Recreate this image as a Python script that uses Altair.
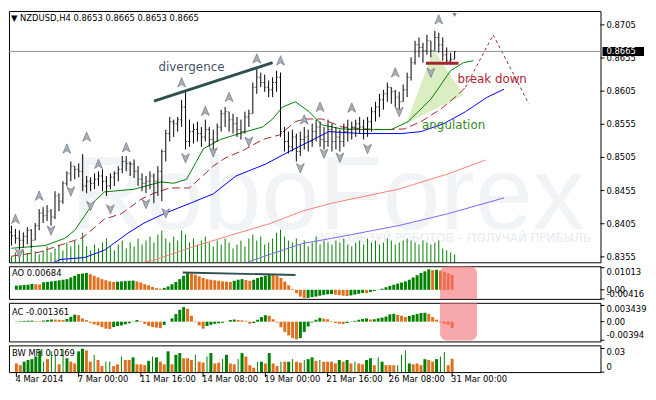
import altair as alt
import pandas as pd

FONT = "DejaVu Sans"
W = 598
H_MAIN, H_AO, H_AC, H_MFI = 254, 33, 39, 27
X_DOMAIN = [-0.625, 148.875]
P_DOMAIN = [0.83468, 0.87259]
AO_DOMAIN = [-0.00416, 0.0108]
AC_DOMAIN = [-0.0042, 0.0040]
MFI_DOMAIN = [0.0, 0.034]

HEADER = "\u25bc NZDUSD,H4  0.8653 0.8665 0.8653 0.8665"
price_ticks = [0.8705, 0.8655, 0.8605, 0.8555, 0.8505, 0.8455, 0.8405, 0.8355]
ao_ticks = [0.01013, 0.0, -0.00416]
ao_tick_labels = ["0.01013", "0.00", "-0.00416"]
ac_ticks = [0.003439, 0.0, -0.00394]
ac_tick_labels = ["0.003439", "0.00", "-0.00394"]
mfi_ticks = [0.03, 0.0]
mfi_tick_labels = ["0.03", "0"]
time_ticks = [0, 16, 32, 48, 64, 80, 96, 112]
time_labels = ["4 Mar 2014", "7 Mar 00:00", "11 Mar 16:00", "14 Mar 08:00",
               "19 Mar 00:00", "21 Mar 16:00", "26 Mar 08:00", "31 Mar 00:00"]
last_price = 0.8665
first_open = 0.8392

bar_high = [
    .8402, .8397, .8395, .8392, .8400, .8397, .8406, .8427, .8430, .8433,
    .8427, .8454, .8451, .8469, .8484, .8499, .8492, .8496, .8510, .8477,
    .8475, .8481, .8484, .8487, .8477, .8481, .8484, .8492, .8507, .8507,
    .8499, .8502, .8492, .8481, .8477, .8484, .8481, .8492, .8517, .8547,
    .8566, .8562, .8566, .8592, .8604, .8562, .8556, .8559, .8551, .8562,
    .8551, .8547, .8556, .8577, .8581, .8574, .8571, .8566, .8562, .8574,
    .8577, .8618, .8638, .8633, .8630, .8621, .8626, .8636, .8633, .8551,
    .8544, .8547, .8541, .8544, .8551, .8547, .8556, .8562, .8559, .8551,
    .8562, .8556, .8551, .8547, .8556, .8562, .8559, .8562, .8566, .8562,
    .8566, .8581, .8589, .8601, .8607, .8618, .8611, .8607, .8604, .8615,
    .8633, .8656, .8681, .8686, .8678, .8690, .8681, .8696, .8693, .8686,
    .8671, .8663, .8665]
bar_low = [
    .8372, .8375, .8365, .8369, .8374, .8368, .8380, .8395, .8406, .8409,
    .8402, .8412, .8424, .8435, .8462, .8469, .8472, .8475, .8454, .8451,
    .8454, .8457, .8462, .8454, .8447, .8457, .8462, .8469, .8481, .8484,
    .8477, .8474, .8462, .8454, .8451, .8457, .8436, .8447, .8439, .8499,
    .8529, .8536, .8544, .8551, .8517, .8521, .8526, .8529, .8521, .8529,
    .8521, .8517, .8529, .8544, .8551, .8544, .8541, .8536, .8532, .8541,
    .8551, .8571, .8601, .8611, .8604, .8596, .8596, .8604, .8536, .8514,
    .8511, .8514, .8499, .8507, .8517, .8514, .8521, .8529, .8521, .8517,
    .8521, .8514, .8517, .8514, .8521, .8529, .8532, .8536, .8541, .8532,
    .8536, .8544, .8559, .8566, .8577, .8589, .8586, .8581, .8577, .8589,
    .8596, .8621, .8645, .8656, .8648, .8660, .8656, .8666, .8663, .8651,
    .8645, .8645, .8653]
bar_close = [
    .8387, .8383, .8380, .8386, .8395, .8380, .8402, .8421, .8417, .8424,
    .8415, .8447, .8439, .8466, .8481, .8492, .8487, .8484, .8462, .8469,
    .8466, .8472, .8477, .8469, .8462, .8475, .8481, .8487, .8499, .8496,
    .8495, .8484, .8472, .8466, .8469, .8477, .8469, .8484, .8514, .8541,
    .8559, .8556, .8562, .8581, .8529, .8544, .8547, .8541, .8536, .8547,
    .8532, .8529, .8551, .8571, .8574, .8562, .8556, .8547, .8544, .8566,
    .8571, .8611, .8626, .8618, .8611, .8607, .8618, .8626, .8544, .8529,
    .8521, .8536, .8514, .8532, .8536, .8529, .8544, .8551, .8532, .8529,
    .8547, .8529, .8536, .8529, .8544, .8547, .8551, .8556, .8551, .8547,
    .8559, .8574, .8581, .8592, .8601, .8611, .8604, .8596, .8589, .8607,
    .8626, .8648, .8675, .8671, .8666, .8681, .8666, .8686, .8675, .8660,
    .8651, .8653, .8665]
volume = [
    6, 10, 8, 12, 9, 14, 11, 8, 12, 16, 10,
    14, 18, 12, 20, 16, 22, 18, 30, 16, 12,
    18, 14, 20, 24, 16, 12, 18, 22, 14, 20,
    16, 24, 18, 22, 26, 20, 28, 32, 24, 20,
    26, 22, 32, 28, 20, 24, 18, 22, 26, 20,
    16, 22, 18, 24, 20, 14, 18, 22, 16, 24,
    28, 22, 26, 18, 20, 24, 30, 33, 26, 22,
    20, 24, 18, 22, 16, 20, 26, 18, 22, 20,
    18, 22, 20, 24, 18, 16, 20, 22, 18, 24,
    20, 22, 18, 20, 24, 22, 18, 20, 22, 24,
    22, 20, 18, 22, 20, 18, 20, 22, 14, 12, 10, 8]

lips_i = [0, 8.5, 13.5, 16, 18.5, 21, 23.5, 31, 37.75, 41, 44.25, 46.75, 48.5, 52.75, 59.25,
          63.5, 66, 68.5, 71.75, 75.25, 78.5, 83.5, 90.25, 96, 100.25, 106, 111, 114.25, 116.75]
lips_p = [.8368, .8372, .8383, .8395, .8417, .8439, .8453, .8457, .8468, .8466, .8472, .8499, .8518,
          .8532, .8544, .8551, .8563, .8581, .8589, .8574, .8554, .8548, .8547, .8547, .8559, .8593,
          .8636, .8648, .8651]
teeth_i = [0, 7, 16, 18, 23.5, 27.75, 32.75, 36, 40, 45, 47.75, 51, 54, 59, 63.5, 67.75, 71.75,
           74, 78.5, 83.5, 89.25, 94.25, 99.25, 103.5, 108.5, 112.75, 114.75]
teeth_p = [.8356, .8362, .8380, .8384, .8412, .8420, .8442, .8451, .8459, .8459, .8474, .8492,
           .8504, .8517, .8532, .8539, .8559, .8563, .8563, .8551, .8548, .8547, .8548, .8559,
           .8578, .8599, .8611]
jaw_i = [10, 12.25, 18.5, 23.5, 29.25, 33.5, 38.5, 45.25, 51, 56.75, 64.25, 70.25, 75.25, 80.25,
         88.5, 98.5, 103.5, 109.25, 114.75, 120.25, 124.5]
jaw_p = [.8344, .8351, .8354, .8365, .8390, .8406, .8420, .8436, .8450, .8477, .8495, .8514,
         .8529, .8544, .8541, .8541, .8544, .8556, .8574, .8596, .8608]
ma_salmon_i = [33.5, 36, 45.25, 56.75, 65.25, 73.5, 81, 97.75, 110.25, 119.75]
ma_salmon_p = [.8347, .8350, .8369, .8390, .8405, .8424, .8436, .8457, .8480, .8501]
ma_purple_i = [59.75, 61, 73.5, 81, 97.75, 110.25, 124.5]
ma_purple_p = [.8347, .8350, .8375, .8383, .8402, .8420, .8444]
forecast_i = [114.75, 121.75, 130.75]
forecast_p = [.8611, .8690, .8586]

frac_up_i = [1, 7, 14, 19, 22, 29, 43, 49, 55, 62, 68, 74, 78, 86, 97, 108]
frac_up_p = [.8412, .8447, .8518, .8536, .8495, .8520, .8618, .8575, .8596, .8654, .8651,
             .8562, .8581, .8580, .8633, .8713]
frac_dn_i = [2, 10, 15, 20, 25, 34, 39, 44, 51, 60, 73, 79, 83, 90, 98, 106]
frac_dn_p = [.8360, .8395, .8454, .8432, .8427, .8435, .8421, .8504, .8513, .8529, .8489,
             .8511, .8505, .8518, .8574, .8633]

ao_vals = [
    .00193, .00206, .00219, .00232, .00270, .00257, .00245, .00347, .00360, .00386,
    .00412, .00438, .00463, .00489, .00566, .00644, .00721, .00746, .00772,
    .00721, .00644, .00566, .00489, .00438, .00386, .00360,
    .00373, .00386, .00399, .00412, .00425,
    .00386, .00335, .00257, .00206, .00129, .00077, .00051,
    .00090, .00154, .00257, .00360, .00489, .00644, .00759,
    .00734, .00695, .00618, .00541, .00489, .00463, .00438, .00412, .00386, .00373, .00360,
    .00412, .00463, .00489,
    .00450, .00412,
    .00463, .00541, .00592, .00644, .00695,
    .00682, .00644, .00541, .00373, .00206, .00039, -.00154, -.00309, -.00386,
    -.00373, -.00335, -.00309, -.00270, -.00232, -.00206, -.00193,
    -.00219, -.00245, -.00270, -.00283,
    -.00257, -.00219, -.00180, -.00142,
    -.00154,
    -.00103, -.00051, -.00013, .00051, .00116, .00180, .00232, .00283, .00335, .00386,
    .00463, .00566, .00669, .00772, .00849, .00940,
    .00901, .00914, .00875, .00824, .00759, .00684]
ac_vals = [
    .000057, .000115, .000172, .000201, .000229, .000115, .000086, .000229, .000344, .000458,
    .000430, .000401, .000372, .000573, .001031, .001490, .001375, .000688, .000344, -.000229,
    -.000573, -.000802, -.001146, -.001490, -.001547, -.001146, -.000917, -.000802, -.000573, -.000344,
    .000057, .000344, .000115, -.000458, -.000917, -.001146, -.001261, -.001375, -.000688, .000029,
    .000688, .001604, .002521, .003094, .002750, .001261, -.000115, -.000802, -.001490, -.000917,
    -.000688, -.000458, -.000344, -.000229, .000029, .000344, .000458, .000344, .000287, .000172,
    -.000458, -.000287, .000401, .000974, .001375, .001261, .000516, -.000172, -.001203, -.002177,
    -.002922, -.003495, -.003725, -.003495, -.002177, -.001031, -.000172, .000401, .000802, .000630,
    .000516, .000115, -.000287, -.000458, -.000516, -.000287, -.000057, .000172, .000401, .000573,
    .000688, .000458, .000516, .000688, .000860, .001089, .001547, .001662, .001433, .001261,
    .000974, .001203, .001433, .001662, .001834, .001891, .001662, .000974, .000401, -.000172,
    -.000401, -.000630, -.001361]
mfi_vals = [
    .0110, .0088, .0132, .0154, .0165, .0198, .0275, .0132, .0165, .0264,
    .0220, .0099, .0297, .0176, .0132, .0110, .0264, .0297, .0275, .0132,
    .0220, .0154, .0077, .0132, .0132, .0077, .0099, .0198, .0154, .0154,
    .0187, .0099, .0099, .0088, .0143, .0198, .0187, .0132, .0099, .0264,
    .0099, .0220, .0242, .0176, .0176, .0154, .0220, .0132, .0121, .0198,
    .0242, .0110, .0121, .0165, .0220, .0110, .0099, .0165, .0242, .0198,
    .0088, .0055, .0132, .0132, .0110, .0242, .0110, .0077, .0132, .0132,
    .0132, .0165, .0132, .0121, .0154, .0165, .0187, .0143, .0154, .0132,
    .0132, .0132, .0110, .0154, .0132, .0154, .0110, .0132, .0110, .0099,
    .0154, .0176, .0088, .0187, .0132, .0088, .0088, .0088, .0088, .0220,
    .0275, .0110, .0099, .0110, .0088, .0165, .0154, .0132, .0165, .0198,
    .0253, .0088, .0169]
mfi_kind = list(
    "BBGGGGGUPU" "UPUGPPGGPB" "UPBUUBBUPP" "GPPBGUGPBG" "BGGBBBUPBU"
    "GPPUGPBUGP" "BBUGPGBBUP" "GUPPUGGBUP" "PPBGPGBUBP" "GGBUGPPPUU"
    "UGBPBGBPGU" "UPB")

GREEN, ORANGE, RED = "#008000", "#e0701e", "#dc143c"
MFI_COLORS = {"G": "#2e8b57", "B": "#b8860b", "U": "#0000ff", "P": "#dc143c"}
LABEL_SIZE = 8.5

n = len(bar_close)
idx = list(range(n))


def xenc(field="i"):
    return alt.X(field, type="quantitative",
                 scale=alt.Scale(domain=X_DOMAIN, nice=False, zero=False), axis=None)


def yenc(field, domain):
    return alt.Y(field, type="quantitative",
                 scale=alt.Scale(domain=domain, nice=False, zero=False), axis=None)


def right_scale(values, texts, domain, baselines=None):
    """Price-scale ticks and labels drawn on the right edge of a panel."""
    baselines = baselines or ["middle"] * len(values)
    df = pd.DataFrame({"v": values, "t": texts, "b": baselines})
    ticks = alt.Chart(df).mark_rule(color="black", strokeWidth=1).encode(
        x=alt.value(W), x2=alt.value(W + 4), y=yenc("v", domain))
    layers = [ticks]
    for b in dict.fromkeys(baselines):
        layers.append(
            alt.Chart(df).transform_filter(alt.datum.b == b).mark_text(
                align="left", baseline=b, font=FONT, fontSize=LABEL_SIZE,
                color="black").encode(x=alt.value(W + 6), y=yenc("v", domain), text="t:N"))
    return layers


def line(xs, ps, color, width=1.0, dash=None):
    df = pd.DataFrame({"i": xs, "p": ps})
    kw = dict(color=color, strokeWidth=width, clip=True)
    if dash:
        kw["strokeDash"] = dash
    return alt.Chart(df).mark_line(**kw).encode(x=xenc(), y=yenc("p", P_DOMAIN))


def label(text, color, size, xi, p, align="center", baseline="middle", font=FONT):
    df = pd.DataFrame({"i": [xi], "p": [p], "t": [text]})
    return alt.Chart(df).mark_text(color=color, fontSize=size, font=font, align=align,
                                   baseline=baseline).encode(
        x=xenc(), y=yenc("p", P_DOMAIN), text="t:N")


def panel_title(text, ypx):
    return alt.Chart(pd.DataFrame({"t": [text]})).mark_text(
        align="left", baseline="middle", font=FONT, fontSize=LABEL_SIZE, color="black").encode(
        x=alt.value(3), y=alt.value(ypx), text="t:N")


# ---------------- main price panel ----------------
bar_open = [first_open] + bar_close[:-1]
ohlc = pd.DataFrame({"i": idx, "open": bar_open, "high": bar_high, "low": bar_low,
                     "close": bar_close, "vol": volume})

watermark = alt.layer(
    label("RoboForex", "#f1f4f7", 105, 15, 0.8397, align="left", baseline="alphabetic",
          font="Liberation Sans"),
    label("ИСПОЛЬЗУЙ РОБОТОВ – ПОЛУЧАЙ ПРИБЫЛЬ", "#e6ebf0", 12, 146.5, 0.8383,
          align="right"),
)

vol_layer = alt.Chart(ohlc).mark_rule(color=GREEN, strokeWidth=1).encode(
    x=xenc(), y=yenc("vol", [0, H_MAIN]), y2=alt.datum(0))

tri = pd.DataFrame({"i": [99.75, 106.75, 114.25], "p": [.8556, .8668, .8599],
                    "p2": [.8556, .8577, .8599]})
tri_layer = alt.Chart(tri).mark_area(color="#d9ecc0", opacity=0.95).encode(
    x=xenc(), y=yenc("p", P_DOMAIN), y2="p2")

price_line = alt.Chart(pd.DataFrame({"p": [last_price]})).mark_rule(
    color="#8c9399", strokeWidth=1).encode(y=yenc("p", P_DOMAIN))

hl = alt.Chart(ohlc).mark_rule(color="black", strokeWidth=1).encode(
    x=xenc(), y=yenc("low", P_DOMAIN), y2="high")
op = alt.Chart(ohlc).mark_tick(color="black", orient="horizontal", size=1, thickness=1,
                               xOffset=-1).encode(x=xenc(), y=yenc("open", P_DOMAIN))
cl = alt.Chart(ohlc).mark_tick(color="black", orient="horizontal", size=1, thickness=1,
                               xOffset=1).encode(x=xenc(), y=yenc("close", P_DOMAIN))

UP_SHAPE = "M0,-1L0.8,0.9L0,0.4L-0.8,0.9Z"
DN_SHAPE = "M0,1L0.8,-0.9L0,-0.4L-0.8,-0.9Z"
frac_up = alt.Chart(pd.DataFrame({"i": frac_up_i, "p": frac_up_p})).mark_point(
    shape=UP_SHAPE, filled=True, fill="#a9afb8", stroke="#5f6670", strokeWidth=0.6,
    size=100, opacity=1).encode(x=xenc(), y=yenc("p", P_DOMAIN))
frac_dn = alt.Chart(pd.DataFrame({"i": frac_dn_i, "p": frac_dn_p})).mark_point(
    shape=DN_SHAPE, filled=True, fill="#a9afb8", stroke="#5f6670", strokeWidth=0.6,
    size=100, opacity=1).encode(x=xenc(), y=yenc("p", P_DOMAIN))

header = alt.Chart(pd.DataFrame({"t": [HEADER]})).mark_text(
    align="left", baseline="middle", font=FONT, fontSize=LABEL_SIZE, color="black").encode(
    x=alt.value(2), y=alt.value(7), text="t:N")

box = pd.DataFrame({"p": [last_price + 0.00068], "p2": [last_price - 0.00068],
                    "pc": [last_price], "t": [f"{last_price:.4f}"]})
box_rect = alt.Chart(box).mark_rect(color="black").encode(
    x=alt.value(W + 2), x2=alt.value(W + 44), y=yenc("p", P_DOMAIN), y2="p2")
box_text = alt.Chart(box).mark_text(align="left", baseline="middle", font=FONT,
                                    fontSize=LABEL_SIZE, color="white").encode(
    x=alt.value(W + 6), y=yenc("pc", P_DOMAIN), text="t:N")

shift_marker = alt.Chart(pd.DataFrame({"i": [n - 1]})).mark_point(
    shape="triangle-down", filled=True, color="#7b838c", size=20, opacity=1).encode(
    x=xenc(), y=alt.value(4))

price_layers = alt.layer(
    tri_layer,
    line(ma_salmon_i, ma_salmon_p, "#fa8072"),
    line(ma_purple_i, ma_purple_p, "#7b68ee"),
    line(jaw_i, jaw_p, "#0000ff"),
    line(teeth_i, teeth_p, "#a3262a", dash=[8, 4]),
    line(forecast_i, forecast_p, "#a3262a", dash=[3, 3]),
    line(lips_i, lips_p, "#008000"),
    price_line,
    hl, op, cl,
    frac_up, frac_dn,
    line([36, 66], [.8590, .8648], "#2f4f4f", width=3),
    line([104.75, 113], [.8647, .8647], "#a3262a", width=3),
    label("divergence", "#44546a", 12, 45.5, .8642),
    label("break down", "#b22234", 12, 121.5, .8623),
    label("angulation", "#3a8a1e", 12, 111.75, .8554),
    *right_scale(price_ticks, [f"{p:.4f}" for p in price_ticks], P_DOMAIN),
    header, box_rect, box_text, shift_marker,
)

main = alt.layer(watermark, vol_layer, price_layers).resolve_scale(
    y="independent").properties(width=W, height=H_MAIN)

# ---------------- AO panel ----------------
ao_dir = ["up"] + ["up" if ao_vals[k] > ao_vals[k - 1] else "down" for k in range(1, n)]
ao_df = pd.DataFrame({"i": idx, "v": ao_vals, "c": ao_dir})
ao_bars = alt.Chart(ao_df).mark_bar(size=3).encode(
    x=xenc(), y=yenc("v", AO_DOMAIN), y2=alt.datum(0),
    color=alt.Color("c:N", scale=alt.Scale(domain=["up", "down"], range=[GREEN, ORANGE]),
                    legend=None))
ao_div = alt.Chart(pd.DataFrame({"i": [42.75, 71.75], "v": [0.0079, 0.0068]})).mark_line(
    color="#2f4f4f", strokeWidth=2).encode(x=xenc(), y=yenc("v", AO_DOMAIN))
hl_box = pd.DataFrame({"i": [108.9], "i2": [118.4]})
ao_pink = alt.Chart(hl_box.assign(v=AO_DOMAIN[1], v2=AO_DOMAIN[0])).mark_rect(
    color="#f26e71", opacity=0.6, cornerRadiusTopLeft=7, cornerRadiusTopRight=7).encode(
    x=xenc(), x2="i2", y=yenc("v", AO_DOMAIN), y2="v2")
ao = alt.layer(
    ao_bars, ao_div, ao_pink, panel_title("AO 0.00684", 7),
    *right_scale(ao_ticks, ao_tick_labels, AO_DOMAIN, ["top", "middle", "bottom"]),
).properties(width=W, height=H_AO)

# ---------------- AC panel ----------------
ac_dir = ["up"] + ["up" if ac_vals[k] > ac_vals[k - 1] else "down" for k in range(1, n)]
ac_df = pd.DataFrame({"i": idx, "v": ac_vals, "c": ac_dir})
ac_bars = alt.Chart(ac_df).mark_bar(size=3).encode(
    x=xenc(), y=yenc("v", AC_DOMAIN), y2=alt.datum(0),
    color=alt.Color("c:N", scale=alt.Scale(domain=["up", "down"], range=[GREEN, RED]),
                    legend=None))
ac_pink = alt.Chart(hl_box.assign(v=AC_DOMAIN[1], v2=AC_DOMAIN[0] + 0.0002)).mark_rect(
    color="#f26e71", opacity=0.6, cornerRadiusBottomLeft=7,
    cornerRadiusBottomRight=7).encode(x=xenc(), x2="i2", y=yenc("v", AC_DOMAIN), y2="v2")
ac = alt.layer(
    ac_bars, ac_pink, panel_title("AC -0.001361", 9),
    *right_scale(ac_ticks, ac_tick_labels, AC_DOMAIN, ["top", "middle", "bottom"]),
).properties(width=W, height=H_AC)

# ---------------- BW MFI panel ----------------
mfi_df = pd.DataFrame({"i": idx, "v": mfi_vals, "k": mfi_kind})
kinds = list(MFI_COLORS.keys())
kind_scale = alt.Scale(domain=kinds, range=[MFI_COLORS[k] for k in kinds])
mfi_thick = alt.Chart(mfi_df).transform_filter("datum.k != 'U'").mark_bar(size=3).encode(
    x=xenc(), y=yenc("v", MFI_DOMAIN), y2=alt.datum(0),
    color=alt.Color("k:N", scale=kind_scale, legend=None))
mfi_thin = alt.Chart(mfi_df).transform_filter("datum.k == 'U'").mark_rule(strokeWidth=1).encode(
    x=xenc(), y=yenc("v", MFI_DOMAIN), y2=alt.datum(0),
    color=alt.Color("k:N", scale=kind_scale, legend=None))

time_df = pd.DataFrame({"i": time_ticks, "t": time_labels})
time_ticks_layer = alt.Chart(time_df).mark_rule(color="black", strokeWidth=1).encode(
    x=xenc(), y=alt.value(H_MFI), y2=alt.value(H_MFI + 5))
time_text_layer = alt.Chart(time_df).mark_text(
    align="left", baseline="top", font=FONT, fontSize=LABEL_SIZE, color="black", dx=-1).encode(
    x=xenc(), y=alt.value(H_MFI + 3), text="t:N")

mfi = alt.layer(
    mfi_thick, mfi_thin, panel_title("BW MFI 0.0169", 8),
    *right_scale(mfi_ticks, mfi_tick_labels, MFI_DOMAIN, ["top", "bottom"]),
    time_ticks_layer, time_text_layer,
).properties(width=W, height=H_MFI)

chart = alt.vconcat(main, ao, ac, mfi, spacing=2).resolve_scale(
    x="independent", y="independent").properties(
    padding=0, background="white").configure_view(stroke="black", strokeWidth=1)

chart.save("out.html", embed_options={"renderer": "svg", "actions": False})
